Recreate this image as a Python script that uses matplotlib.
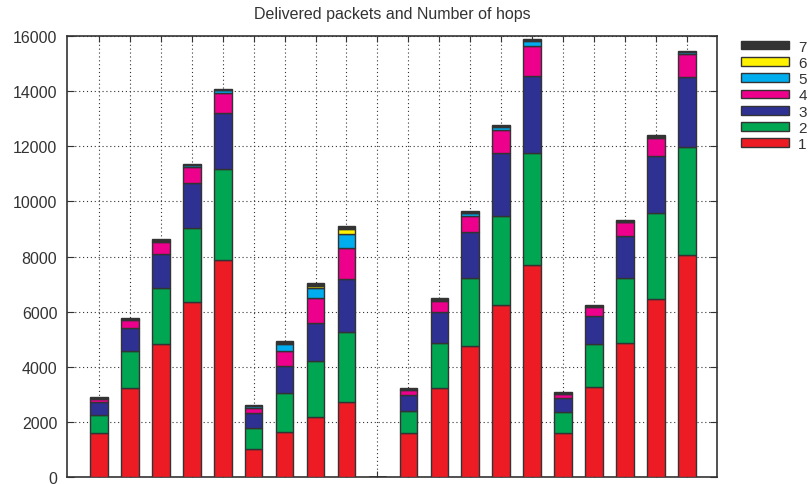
import matplotlib
matplotlib.use("Agg")
import matplotlib.pyplot as plt
import numpy as np

plt.rcParams["font.family"] = ["Liberation Sans", "DejaVu Sans"]

title = "Delivered packets and Number of hops"
hops = ["1", "2", "3", "4", "5", "6", "7"]

h1 = [1585, 3230, 4825, 6340, 7870, 1000, 1630, 2165, 2710, 0, 1600, 3220, 4765, 6240, 7680, 1585, 3255, 4860, 6460, 8045]
h2 = [675, 1350, 2020, 2680, 3300, 790, 1430, 2045, 2565, 0, 810, 1630, 2445, 3240, 4065, 785, 1585, 2370, 3135, 3940]
h3 = [450, 835, 1245, 1635, 2045, 520, 980, 1390, 1910, 0, 570, 1150, 1690, 2265, 2815, 510, 1005, 1510, 2050, 2515]
h4 = [120, 290, 425, 580, 700, 205, 530, 895, 1125, 0, 180, 375, 580, 855, 1090, 135, 325, 495, 650, 835]
h5 = [20, 30, 40, 80, 110, 50, 245, 365, 510, 0, 20, 50, 85, 110, 170, 20, 20, 30, 40, 75]
h6 = [5, 5, 10, 10, 15, 10, 60, 85, 180, 0, 5, 5, 10, 10, 20, 5, 5, 10, 10, 10]
h7 = [35, 45, 55, 40, 45, 50, 55, 90, 105, 0, 45, 60, 60, 55, 55, 50, 50, 50, 50, 40]

series = [h1, h2, h3, h4, h5, h6, h7]
colors = ["#ED1C24", "#00A651", "#2E3192", "#EC008C", "#00AEEF", "#FFF200", "#333333"]

fig = plt.figure(figsize=(8.11, 4.85), dpi=100)
ax = fig.add_axes([67/811, 1-478/485, (717-67)/811, (478-37)/485])

x = np.arange(len(h1))
bottom = np.zeros(len(h1))
handles = []
for vals, c, lab in zip(series, colors, hops):
    b = ax.bar(x, vals, 0.57, bottom=bottom, color=c, edgecolor="#333333",
               linewidth=1.0, label=lab, zorder=3)
    handles.append(b)
    bottom += np.array(vals)

ax.set_xlim(-1.03, 19.97)
ax.set_ylim(0, 16000)
ax.set_yticks(np.arange(0, 16001, 2000))
ax.set_xticks(x)
ax.set_xticklabels([])
ax.grid(True, linestyle=(0, (1, 2.5)), color="#333333", linewidth=0.8, zorder=0)
ax.tick_params(direction="in", top=True, right=True, length=5, width=0.8,
               colors="#333333", labelsize=11.5, labelcolor="#333333", pad=7)
ax.tick_params(axis="x", length=4)
for s in ax.spines.values():
    s.set_color("#333333")
    s.set_linewidth(1.2)

ax.set_title(title, fontsize=11.5, color="#333333", pad=13)

leg = ax.legend(handles[::-1], hops[::-1], loc="upper left",
                bbox_to_anchor=(741/811, 1-40.5/485), bbox_transform=fig.transFigure,
                frameon=False, fontsize=11, handlelength=3.15, handleheight=0.5,
                labelspacing=0.15, handletextpad=0.6, borderaxespad=0, borderpad=0)
for t in leg.get_texts():
    t.set_color("#333333")

fig.savefig("out.png", dpi=100)
